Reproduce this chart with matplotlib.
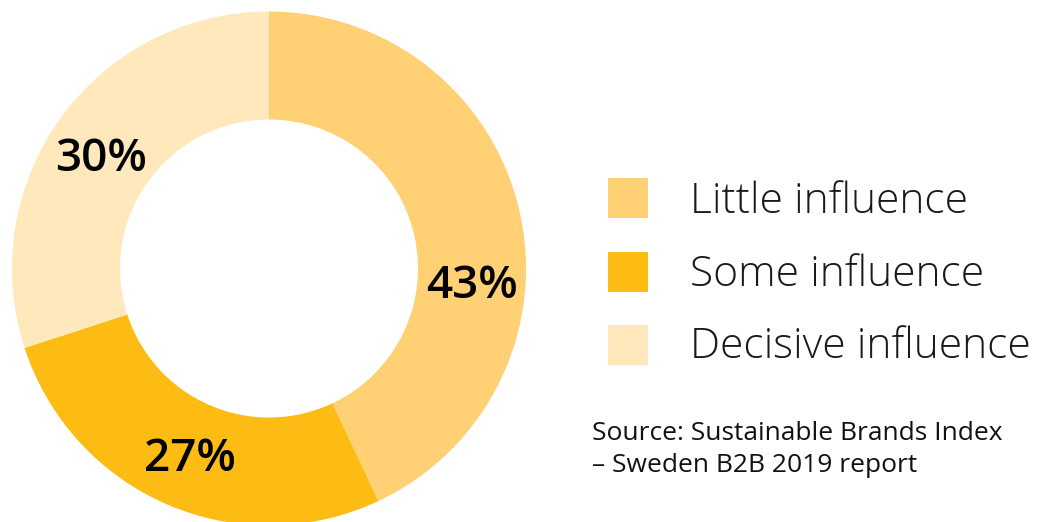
import matplotlib.pyplot as plt
from matplotlib.patches import Rectangle

# Influence shares (percent), drawn clockwise from twelve o'clock
categories = ['Little influence', 'Some influence', 'Decisive influence']
shares = [43, 27, 30]
colors = ['#FFD074', '#FDBC13', '#FFE8BB']
source_lines = ['Source: Sustainable Brands Index', '\u2013 Sweden B2B 2019 report']

plt.rcParams['font.family'] = ['Open Sans', 'DejaVu Sans']

W, H = 1039, 522
fig = plt.figure(figsize=(W / 100, H / 100), dpi=100)

# Donut axes measured in pixels so the ring sizes are easy to set
cx, cy = 269, 268.5
side = 540
ax = fig.add_axes([(cx - side / 2) / W, (H - cy - side / 2) / H, side / W, side / H])
outer_r, ring = 257, 108
ax.pie(shares, colors=colors, radius=outer_r, startangle=90, counterclock=False,
       wedgeprops=dict(width=ring, linewidth=0))
ax.set_xlim(-side / 2, side / 2)
ax.set_ylim(-side / 2, side / 2)
ax.set_aspect('equal')
ax.axis('off')

# Percentage labels sit inside each ring segment
label_pos = [(203, -18.5), (-79.5, -191), (-168, 108.5)]
for val, (x, y) in zip(shares, label_pos):
    ax.text(x, y, f'{val}%', ha='center', va='center', fontsize=33,
            fontweight='semibold', color='#000000')

# Legend: coloured squares with light labels
sq = 40
legend_y = [198, 272, 345]
legend_base = [213, 285.5, 357.5]
for name, col, y, yb in zip(categories, colors, legend_y, legend_base):
    fig.patches.append(Rectangle((608 / W, (H - y - sq / 2) / H), sq / W, sq / H,
                                 transform=fig.transFigure, facecolor=col,
                                 edgecolor='none'))
    fig.text(690 / W, (H - yb) / H, name, ha='left', va='baseline', fontsize=30.7,
             fontweight='light', color='#1a1a1a')

# Source note
fig.text(592 / W, (H - 439.5) / H, source_lines[0], ha='left', va='baseline',
         fontsize=19, color='#111111')
fig.text(592 / W, (H - 471.5) / H, source_lines[1], ha='left', va='baseline',
         fontsize=19, color='#111111')

fig.savefig('out.png', dpi=100, facecolor='white')
